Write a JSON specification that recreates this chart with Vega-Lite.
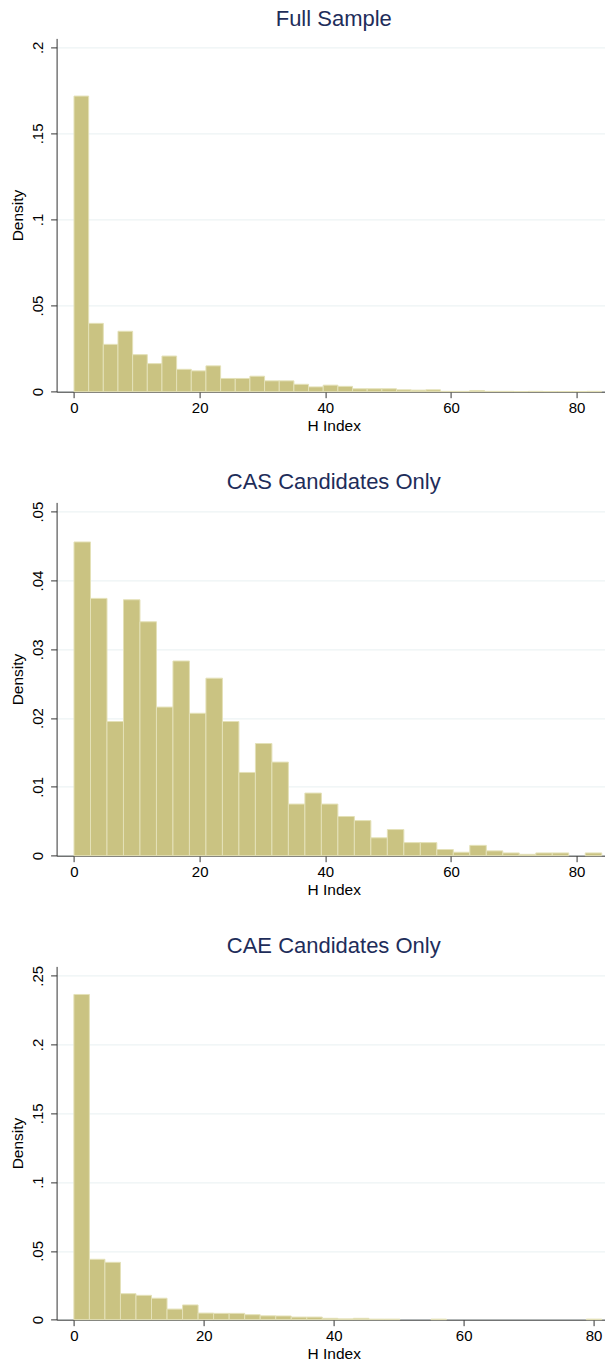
{
  "$schema": "https://vega.github.io/schema/vega-lite/v6.json",
  "background": "white",
  "padding": {"left": 10.6, "top": 7.4, "right": 0, "bottom": 0},
  "data": {"values": [
    {"panel": "full", "x0": 0, "x1": 2.333, "density": 0.1717},
    {"panel": "full", "x0": 2.333, "x1": 4.667, "density": 0.0397},
    {"panel": "full", "x0": 4.667, "x1": 7, "density": 0.0275},
    {"panel": "full", "x0": 7, "x1": 9.333, "density": 0.0351},
    {"panel": "full", "x0": 9.333, "x1": 11.667, "density": 0.0215},
    {"panel": "full", "x0": 11.667, "x1": 14, "density": 0.0163},
    {"panel": "full", "x0": 14, "x1": 16.333, "density": 0.0207},
    {"panel": "full", "x0": 16.333, "x1": 18.667, "density": 0.0130},
    {"panel": "full", "x0": 18.667, "x1": 21, "density": 0.0121},
    {"panel": "full", "x0": 21, "x1": 23.333, "density": 0.0150},
    {"panel": "full", "x0": 23.333, "x1": 25.667, "density": 0.0077},
    {"panel": "full", "x0": 25.667, "x1": 28, "density": 0.0077},
    {"panel": "full", "x0": 28, "x1": 30.333, "density": 0.0090},
    {"panel": "full", "x0": 30.333, "x1": 32.667, "density": 0.0063},
    {"panel": "full", "x0": 32.667, "x1": 35, "density": 0.0063},
    {"panel": "full", "x0": 35, "x1": 37.333, "density": 0.0043},
    {"panel": "full", "x0": 37.333, "x1": 39.667, "density": 0.0028},
    {"panel": "full", "x0": 39.667, "x1": 42, "density": 0.0038},
    {"panel": "full", "x0": 42, "x1": 44.333, "density": 0.0031},
    {"panel": "full", "x0": 44.333, "x1": 46.667, "density": 0.0017},
    {"panel": "full", "x0": 46.667, "x1": 49, "density": 0.0017},
    {"panel": "full", "x0": 49, "x1": 51.333, "density": 0.0017},
    {"panel": "full", "x0": 51.333, "x1": 53.667, "density": 0.0011},
    {"panel": "full", "x0": 53.667, "x1": 56, "density": 0.0009},
    {"panel": "full", "x0": 56, "x1": 58.333, "density": 0.0011},
    {"panel": "full", "x0": 58.333, "x1": 60.667, "density": 0.0002},
    {"panel": "full", "x0": 60.667, "x1": 63, "density": 0.0002},
    {"panel": "full", "x0": 63, "x1": 65.333, "density": 0.0007},
    {"panel": "full", "x0": 65.333, "x1": 67.667, "density": 0.0002},
    {"panel": "full", "x0": 67.667, "x1": 70, "density": 0.0002},
    {"panel": "full", "x0": 70, "x1": 72.333, "density": 0.0001},
    {"panel": "full", "x0": 72.333, "x1": 74.667, "density": 0.0002},
    {"panel": "full", "x0": 74.667, "x1": 77, "density": 0.0001},
    {"panel": "full", "x0": 77, "x1": 79.333, "density": 0.0001},
    {"panel": "full", "x0": 79.333, "x1": 81.667, "density": 0.0001},
    {"panel": "full", "x0": 81.667, "x1": 84, "density": 0.0002},
    {"panel": "cas", "x0": 0, "x1": 2.625, "density": 0.0456},
    {"panel": "cas", "x0": 2.625, "x1": 5.25, "density": 0.0374},
    {"panel": "cas", "x0": 5.25, "x1": 7.875, "density": 0.0195},
    {"panel": "cas", "x0": 7.875, "x1": 10.5, "density": 0.0372},
    {"panel": "cas", "x0": 10.5, "x1": 13.125, "density": 0.0340},
    {"panel": "cas", "x0": 13.125, "x1": 15.75, "density": 0.0216},
    {"panel": "cas", "x0": 15.75, "x1": 18.375, "density": 0.0283},
    {"panel": "cas", "x0": 18.375, "x1": 21, "density": 0.0207},
    {"panel": "cas", "x0": 21, "x1": 23.625, "density": 0.0258},
    {"panel": "cas", "x0": 23.625, "x1": 26.25, "density": 0.0195},
    {"panel": "cas", "x0": 26.25, "x1": 28.875, "density": 0.0121},
    {"panel": "cas", "x0": 28.875, "x1": 31.5, "density": 0.0163},
    {"panel": "cas", "x0": 31.5, "x1": 34.125, "density": 0.0136},
    {"panel": "cas", "x0": 34.125, "x1": 36.75, "density": 0.0075},
    {"panel": "cas", "x0": 36.75, "x1": 39.375, "density": 0.0091},
    {"panel": "cas", "x0": 39.375, "x1": 42, "density": 0.0075},
    {"panel": "cas", "x0": 42, "x1": 44.625, "density": 0.0057},
    {"panel": "cas", "x0": 44.625, "x1": 47.25, "density": 0.0051},
    {"panel": "cas", "x0": 47.25, "x1": 49.875, "density": 0.0026},
    {"panel": "cas", "x0": 49.875, "x1": 52.5, "density": 0.0038},
    {"panel": "cas", "x0": 52.5, "x1": 55.125, "density": 0.0019},
    {"panel": "cas", "x0": 55.125, "x1": 57.75, "density": 0.0019},
    {"panel": "cas", "x0": 57.75, "x1": 60.375, "density": 0.0009},
    {"panel": "cas", "x0": 60.375, "x1": 63, "density": 0.0005},
    {"panel": "cas", "x0": 63, "x1": 65.625, "density": 0.0015},
    {"panel": "cas", "x0": 65.625, "x1": 68.25, "density": 0.0007},
    {"panel": "cas", "x0": 68.25, "x1": 70.875, "density": 0.0004},
    {"panel": "cas", "x0": 70.875, "x1": 73.5, "density": 0.0002},
    {"panel": "cas", "x0": 73.5, "x1": 76.125, "density": 0.0004},
    {"panel": "cas", "x0": 76.125, "x1": 78.75, "density": 0.0004},
    {"panel": "cas", "x0": 81.375, "x1": 84, "density": 0.0004},
    {"panel": "cae", "x0": 0, "x1": 2.39, "density": 0.2364},
    {"panel": "cae", "x0": 2.39, "x1": 4.78, "density": 0.0439},
    {"panel": "cae", "x0": 4.78, "x1": 7.17, "density": 0.0417},
    {"panel": "cae", "x0": 7.17, "x1": 9.56, "density": 0.0189},
    {"panel": "cae", "x0": 9.56, "x1": 11.95, "density": 0.0177},
    {"panel": "cae", "x0": 11.95, "x1": 14.34, "density": 0.0156},
    {"panel": "cae", "x0": 14.34, "x1": 16.73, "density": 0.0077},
    {"panel": "cae", "x0": 16.73, "x1": 19.12, "density": 0.0107},
    {"panel": "cae", "x0": 19.12, "x1": 21.51, "density": 0.0048},
    {"panel": "cae", "x0": 21.51, "x1": 23.9, "density": 0.0046},
    {"panel": "cae", "x0": 23.9, "x1": 26.29, "density": 0.0046},
    {"panel": "cae", "x0": 26.29, "x1": 28.68, "density": 0.0036},
    {"panel": "cae", "x0": 28.68, "x1": 31.07, "density": 0.0028},
    {"panel": "cae", "x0": 31.07, "x1": 33.46, "density": 0.0027},
    {"panel": "cae", "x0": 33.46, "x1": 35.85, "density": 0.0019},
    {"panel": "cae", "x0": 35.85, "x1": 38.24, "density": 0.0019},
    {"panel": "cae", "x0": 38.24, "x1": 40.63, "density": 0.0010},
    {"panel": "cae", "x0": 40.63, "x1": 43.02, "density": 0.0006},
    {"panel": "cae", "x0": 43.02, "x1": 45.41, "density": 0.0010},
    {"panel": "cae", "x0": 45.41, "x1": 47.8, "density": 0.0004},
    {"panel": "cae", "x0": 47.8, "x1": 50.19, "density": 0.0004},
    {"panel": "cae", "x0": 54.97, "x1": 57.36, "density": 0.0004},
    {"panel": "cae", "x0": 78.87, "x1": 81.26, "density": 0.0004}
  ]},
  "bounds": "flush",
  "spacing": 110,
  "vconcat": [
    {
      "title": {"text": "Full Sample"},
      "width": 548.3,
      "height": 353.3,
      "transform": [{"filter": "datum.panel == 'full'"}],
      "mark": {"type": "bar", "fill": "#cac382", "stroke": "#e4e1b8", "strokeWidth": 1},
      "encoding": {
        "x": {"field": "x0", "type": "quantitative", "scale": {"domain": [-2.77, 84.5], "nice": false, "zero": false}, "axis": {"values": [0, 20, 40, 60, 80], "title": "H Index"}},
        "x2": {"field": "x1"},
        "y": {"field": "density", "type": "quantitative", "scale": {"domain": [0, 0.2052], "nice": false}, "axis": {"values": [0, 0.05, 0.1, 0.15, 0.2], "title": "Density", "labelExpr": "datum.value == 0 ? '0' : substring(format(datum.value, '.2~f'), 1)"}},
        "y2": {"datum": 0}
      }
    },
    {
      "title": {"text": "CAS Candidates Only"},
      "width": 548.3,
      "height": 353.3,
      "transform": [{"filter": "datum.panel == 'cas'"}],
      "mark": {"type": "bar", "fill": "#cac382", "stroke": "#e4e1b8", "strokeWidth": 1},
      "encoding": {
        "x": {"field": "x0", "type": "quantitative", "scale": {"domain": [-2.77, 84.5], "nice": false, "zero": false}, "axis": {"values": [0, 20, 40, 60, 80], "title": "H Index"}},
        "x2": {"field": "x1"},
        "y": {"field": "density", "type": "quantitative", "scale": {"domain": [0, 0.05135], "nice": false}, "axis": {"values": [0, 0.01, 0.02, 0.03, 0.04, 0.05], "title": "Density", "labelExpr": "datum.value == 0 ? '0' : substring(format(datum.value, '.2~f'), 1)"}},
        "y2": {"datum": 0}
      }
    },
    {
      "title": {"text": "CAE Candidates Only"},
      "width": 548.3,
      "height": 353.3,
      "transform": [{"filter": "datum.panel == 'cae'"}],
      "mark": {"type": "bar", "fill": "#cac382", "stroke": "#e4e1b8", "strokeWidth": 1},
      "encoding": {
        "x": {"field": "x0", "type": "quantitative", "scale": {"domain": [-2.66, 81.74], "nice": false, "zero": false}, "axis": {"values": [0, 20, 40, 60, 80], "title": "H Index"}},
        "x2": {"field": "x1"},
        "y": {"field": "density", "type": "quantitative", "scale": {"domain": [0, 0.2568], "nice": false}, "axis": {"values": [0, 0.05, 0.1, 0.15, 0.2, 0.25], "title": "Density", "labelExpr": "datum.value == 0 ? '0' : substring(format(datum.value, '.2~f'), 1)"}},
        "y2": {"datum": 0}
      }
    }
  ],
  "config": {
    "view": {"stroke": null},
    "font": "Liberation Sans",
    "title": {"fontSize": 22, "fontWeight": "normal", "color": "#1e2d5a", "anchor": "middle", "baseline": "alphabetic", "offset": 7.3, "dx": 3},
    "axis": {"labelFontSize": 15, "titleFontSize": 15.5, "titleFontWeight": "normal", "labelColor": "#000000", "titleColor": "#000000", "domainColor": "#333333", "tickColor": "#333333", "tickSize": 6, "domainWidth": 1, "tickWidth": 1, "gridColor": "#e8f0f1", "gridWidth": 1, "labelOverlap": false, "labelFlush": false},
    "axisX": {"grid": false, "labelBaseline": "top", "labelPadding": 2.7, "titleY": 38.5, "titleX": 277.1, "titleBaseline": "alphabetic", "titleAlign": "center"},
    "axisY": {"grid": true, "labelAngle": 270, "labelAlign": "center", "labelBaseline": "alphabetic", "labelPadding": 8, "titleAngle": 270, "titleX": -33.7, "titleY": 176.65, "titleAlign": "center", "titleBaseline": "alphabetic"}
  }
}
